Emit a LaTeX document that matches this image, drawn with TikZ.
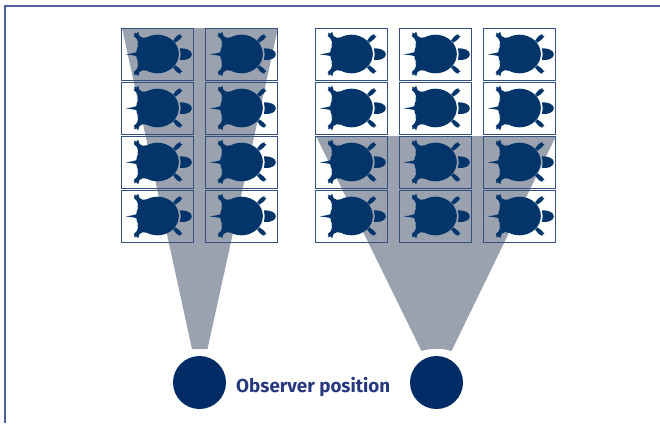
\documentclass[tikz,border=0pt]{standalone}
\usepackage{fontspec}
\setmainfont{Fira Sans}
\definecolor{beamgray}{HTML}{9AA1AF}
\definecolor{turtleblue}{HTML}{03356B}
\definecolor{obsblue}{HTML}{022C66}
\definecolor{tileline}{HTML}{35507F}
\definecolor{framecol}{HTML}{4F60A0}
\definecolor{labelblue}{HTML}{28387F}
\tikzset{
  tilebox/.style={draw=tileline,line width=.9pt,minimum width=71.5pt,minimum height=52pt,inner sep=0pt,outer sep=0pt},
  observer/.style={circle,fill=obsblue,minimum size=53pt,inner sep=0pt,outer sep=0pt},
  beam/.style={fill=beamgray},
  frameline/.style={draw=framecol,line width=2pt},
  turtle/.pic={
    \begin{scope}[x=.3333pt,y=-.3333pt,shift={(-144,-117)}]
      \fill[turtleblue] (144,117) ellipse [x radius=64,y radius=58];
      \fill[turtleblue] (211,100) .. controls (230,99) and (247,106) .. (247,118) .. controls (247,130) and (230,137) .. (211,135) .. controls (214,124) and (214,112) .. cycle;
      \fill[turtleblue] (86,110) .. controls (70,115) and (60,117) .. (48,118) .. controls (60,119) and (70,121) .. (86,124) -- cycle;
      \foreach \m in {1,-1}{
        \begin{scope}[shift={(0,117)},yscale=\m,shift={(0,-117)}]
          \fill[turtleblue] (112,66) .. controls (102,70) and (96,69) .. (90,63) -- (86,50) -- (81,56) -- (74,53) -- (75,60) -- (72,62) -- (82,72) .. controls (86,77) and (86,84) .. (84,94) -- cycle;
          \fill[turtleblue] (191,76) -- (198,83) -- (211,73) -- (219,63) -- (214,63) -- (213,58) -- (206,60) -- (200,65) -- cycle;
        \end{scope}
      }
    \end{scope}
  }
}
\begin{document}
\begin{tikzpicture}[x=1pt,y=-1pt]
  \useasboundingbox (0,0) rectangle (660,423);
  \coordinate (fa) at (660,5.5);
  \coordinate (fb) at (5,5.5);
  \coordinate (fc) at (5,423);
  \draw[frameline] (fa) -- (fb) -- (fc);
  % observers
  \node[observer] (obsL) at (199.5,382.5) {};
  \node[observer] (obsR) at (436.5,382.5) {};
  \node[text=labelblue,font=\bfseries\fontsize{18.8}{22}\selectfont,anchor=base west,inner sep=0pt] (label) at (236,392) {Observer position};
  % beams
  \fill[beam] (122,28) -- (278,28) -- (207.5,349) -- (192,349) -- cycle;
  \fill[beam] (316,136) -- (556,136) -- (451.5,351) .. controls (442,348) and (431,348) .. (421.5,351) -- cycle;
  % tiles
  \foreach \cname/\cx in {a/157.5,b/241.5,c/351.5,d/435.5,e/519.5}{
    \foreach \rname/\ry in {1/54,2/108,3/162,4/216}{
      \node[tilebox] (t\cname\rname) at (\cx,\ry) {};
      \pic at (t\cname\rname.center) {turtle};
    }
  }
\end{tikzpicture}
\end{document}
